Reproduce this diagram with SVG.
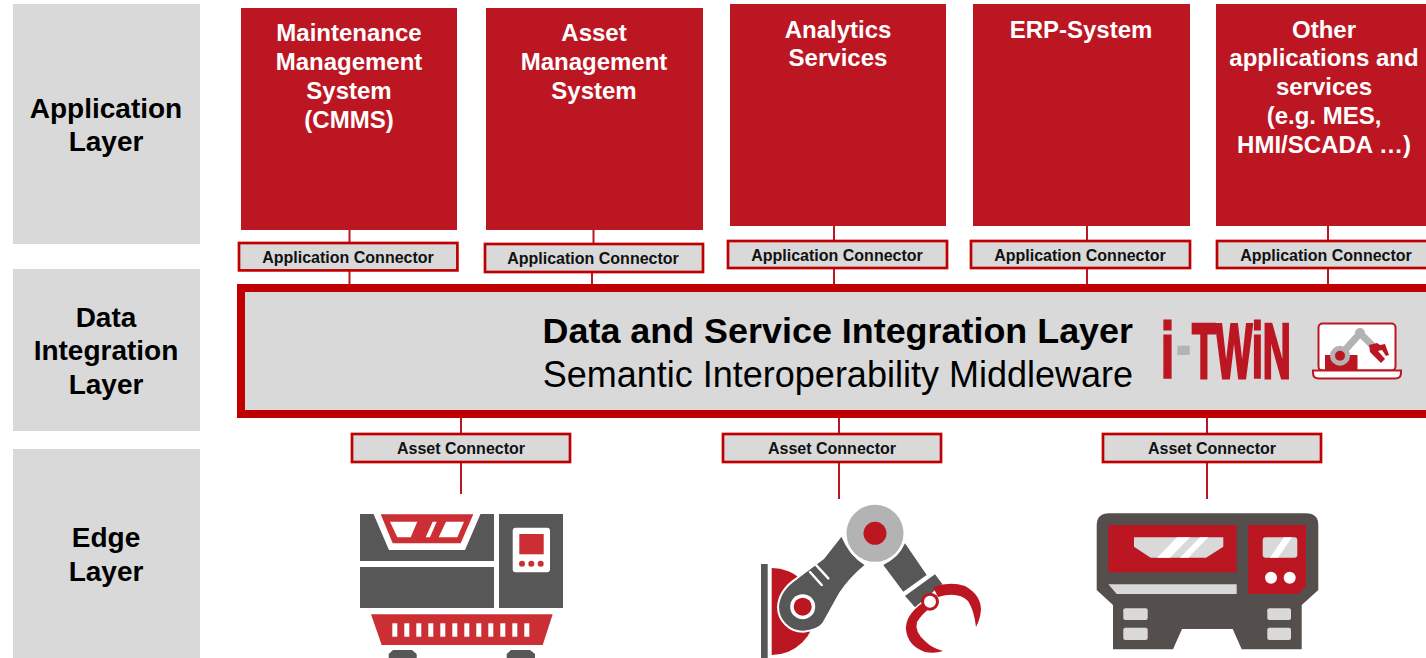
<svg xmlns="http://www.w3.org/2000/svg" width="1426" height="658" viewBox="0 0 1426 658">
<style>
text{font-family:"Liberation Sans",Arial,sans-serif;text-anchor:middle}
.band{fill:#d9d9d9}
.app{fill:#bc1622}
.appt{font-size:24px;font-weight:700;fill:#fff}
.lay{font-size:28px;font-weight:700;fill:#000}
.conn{fill:#d9d9d9;stroke:#c00000;stroke-width:2.700}
.connt{font-size:16px;font-weight:700;fill:#111}
.line{stroke:#bc1622;stroke-width:2;fill:none}
.dk{fill:#575757}
.dk2{fill:#544f4c}
.rd{fill:#cc2f33}
.rd2{fill:#bc1622}
.gr{fill:#d9d9d9}
.wh{fill:#fff}
.lg{font-size:78px;font-weight:700;fill:#bc1622;stroke:#bc1622;stroke-width:2.500;vector-effect:non-scaling-stroke;text-anchor:start}
</style>
<rect width="1426" height="658" fill="#fff"/>
<g id="layer-application"><rect class="band" x="13" y="4" width="187" height="240"/><text class="lay" x="106" y="118">Application</text><text class="lay" x="106" y="151">Layer</text></g>
<g id="layer-data"><rect class="band" x="13" y="269" width="187" height="162"/><text class="lay" x="106" y="327">Data</text><text class="lay" x="106" y="360">Integration</text><text class="lay" x="106" y="394">Layer</text></g>
<g id="layer-edge"><rect class="band" x="13" y="449" width="187" height="209"/><text class="lay" x="106" y="547">Edge</text><text class="lay" x="106" y="581">Layer</text></g>
<g id="connectors">
<path class="line" d="M349.500 230V242M349.500 271V285M593.500 230V243M592 272V285M834 226V240M834 268V285M1087 226V240M1087 268V285M1328 226V240M1328 268V285M461 418V434M461 462V494M839 418V434M839 462V499M1207 418V434M1207 462V499"/>
</g>
<g id="app-cmms"><rect class="app" x="241" y="8" width="216" height="222"/><text class="appt" x="349" y="41">Maintenance</text><text class="appt" x="349" y="70">Management</text><text class="appt" x="349" y="99">System</text><text class="appt" x="349" y="128">(CMMS)</text></g>
<g id="app-asset"><rect class="app" x="486" y="8" width="217" height="222"/><text class="appt" x="594" y="41">Asset</text><text class="appt" x="594" y="70">Management</text><text class="appt" x="594" y="99">System</text></g>
<g id="app-analytics"><rect class="app" x="730" y="4" width="216" height="222"/><text class="appt" x="838" y="38">Analytics</text><text class="appt" x="838" y="66">Services</text></g>
<g id="app-erp"><rect class="app" x="973" y="4" width="217" height="222"/><text class="appt" x="1081" y="38">ERP-System</text></g>
<g id="app-other"><rect class="app" x="1216" y="4" width="210" height="222"/><text class="appt" x="1324" y="38">Other</text><text class="appt" x="1324" y="66">applications and</text><text class="appt" x="1324" y="95">services</text><text class="appt" x="1324" y="124">(e.g. MES,</text><text class="appt" x="1324" y="153">HMI/SCADA …)</text></g>
<g id="ac1"><rect class="conn" x="239" y="243" width="218.400" height="27.400"/><text class="connt" x="348" y="263">Application Connector</text></g>
<g id="ac2"><rect class="conn" x="485" y="244" width="218" height="28"/><text class="connt" x="593" y="264">Application Connector</text></g>
<g id="ac3"><rect class="conn" x="728" y="241" width="219" height="27"/><text class="connt" x="837" y="261">Application Connector</text></g>
<g id="ac4"><rect class="conn" x="971" y="241" width="219" height="27"/><text class="connt" x="1080" y="261">Application Connector</text></g>
<g id="ac5"><rect class="conn" x="1217" y="241" width="212" height="27"/><text class="connt" x="1326" y="261">Application Connector</text></g>
<g id="middleware">
<rect class="band" x="241" y="288" width="1195" height="126" stroke="#c00000" stroke-width="8"/>
<text x="1133" y="343" font-size="35.900" font-weight="700" fill="#000" style="text-anchor:end">Data and Service Integration Layer</text>
<text x="1133" y="387" font-size="36" fill="#000" style="text-anchor:end">Semantic Interoperability Middleware</text>
<g id="logo">
<text class="lg" transform="translate(1161 378) scale(.6 1)">i</text>
<text class="lg" transform="translate(1175.500 371) scale(.62 1)" style="fill:#b3b3b3;stroke:none">-</text>
<text class="lg" transform="translate(1192 378) scale(.497 1)">TWiN</text>
<rect x="1318.500" y="323.500" width="77" height="47" rx="4" fill="#fff" stroke="#bc1622" stroke-width="2"/>
<path d="M1313 370.500H1401V373Q1401 378.500 1395 378.500H1319Q1313 378.500 1313 373Z" fill="#fff" stroke="#bc1622" stroke-width="2"/>
<rect class="rd2" x="1325" y="355" width="32.500" height="15"/>
<path d="M1340 355.700L1360 333.300L1373 346" fill="none" stroke="#b3b3b3" stroke-width="7"/>
<circle cx="1340" cy="355.700" r="10" fill="#b3b3b3"/><circle class="rd2" cx="1340" cy="355.700" r="5"/><circle cx="1360" cy="333" r="5" fill="#b3b3b3"/>
<path class="rd2" d="M1369 345L1377 343L1380 345L1385 344L1389 355L1386 356L1382 350L1378 351L1385 359L1381 363L1370 352Z"/>
</g>
</g>
<g id="asset1"><rect class="conn" x="352" y="434" width="218" height="28"/><text class="connt" x="461" y="454">Asset Connector</text></g>
<g id="asset2"><rect class="conn" x="723" y="434" width="218" height="28"/><text class="connt" x="832" y="454">Asset Connector</text></g>
<g id="asset3"><rect class="conn" x="1103" y="434" width="218" height="28"/><text class="connt" x="1212" y="454">Asset Connector</text></g>
<g id="machine1">
<path class="dk" d="M360 514H373.500L389 550H465L480.500 514H494V561H360Z"/>
<path class="rd" d="M380.700 514.300H473.300L460.700 543.300H392.700Z"/>
<path class="wh" d="M390 521.700H417.300L410.700 537.300H397.300ZM432.700 521.700H436.700L430 537.300H425.700ZM446 521.700H464L457.300 537.300H438.700Z"/>
<rect class="dk" x="360" y="567" width="134" height="41"/>
<rect class="dk" x="499" y="514" width="64" height="94"/>
<rect class="wh" x="512.700" y="527.700" width="37.300" height="44.600" rx="3"/>
<rect class="rd" x="519.300" y="534" width="24.400" height="20.300"/>
<circle class="rd" cx="522" cy="563.700" r="3"/><circle class="rd" cx="531.300" cy="563.700" r="3"/><circle class="rd" cx="540.700" cy="563.700" r="3"/>
<path class="rd" d="M371 614.300H552.700L542.700 645H381.700Z"/>
<g class="wh"><rect x="392.300" y="623.300" width="5" height="13.400"/><rect x="404.300" y="623.300" width="5" height="13.400"/><rect x="416.300" y="623.300" width="5" height="13.400"/><rect x="428.300" y="623.300" width="5" height="13.400"/><rect x="440.300" y="623.300" width="5" height="13.400"/><rect x="452.300" y="623.300" width="5" height="13.400"/><rect x="464.300" y="623.300" width="5" height="13.400"/><rect x="476.300" y="623.300" width="5" height="13.400"/><rect x="488.300" y="623.300" width="5" height="13.400"/><rect x="500.300" y="623.300" width="5" height="13.400"/><rect x="512.300" y="623.300" width="5" height="13.400"/><rect x="524.300" y="623.300" width="5" height="13.400"/></g>
<path class="dk" d="M388.700 658V654L393 650H412L416.700 654V658ZM506.700 658V654L511 650H530L535 654V658Z"/>
</g>
<g id="machine2">
<rect class="dk" x="761" y="564" width="6.700" height="94"/>
<path class="rd2" d="M771.700 568A43.500 43.500 0 0 1 771.700 655Z"/>
<path class="dk" d="M841.700 535L823.300 558.300L796.700 578.300Q779 590 778 606.700A25 25 0 0 0 803.300 631.700Q818 630 823.300 623.300L840 593.300Q850 578 866 565Q850 555 841.700 535Z" stroke="#fff" stroke-width="2"/>
<path d="M810 572L821.700 585M816 565L828.300 578.300" stroke="#fff" stroke-width="2.500" fill="none" stroke-linecap="round"/>
<circle class="wh" cx="802.700" cy="606.700" r="12.500"/>
<circle class="rd2" cx="802.700" cy="606.700" r="9"/>
<path class="dk" d="M905 543.300L926.700 575L903.300 591.700L883.300 565Q898 558 905 543.300Z"/>
<circle cx="875" cy="533.300" r="31" class="wh"/>
<circle cx="875" cy="533.300" r="28.500" fill="#b3b3b3"/>
<circle class="rd2" cx="875" cy="533.300" r="11.500"/>
<path class="dk" d="M905 596L935 574.300L942.300 584L915 607.300Z"/>
<path class="rd2" d="M933 587Q950 581 965 586Q981 595 981 610Q980 620 976 627Q974 610 968 601Q958 591 938 597Z"/>
<path class="rd2" d="M921 604Q905 616 906 630Q908 646 925 652Q935 654 943 651Q932 648 926 642Q914 632 917 622Q922 614 929 609Z"/>
<circle class="rd2" cx="930" cy="601.700" r="9"/><circle class="wh" cx="930" cy="601.700" r="6"/>
</g>
<g id="machine3">
<path class="dk2" d="M1096.700 525Q1097 513.300 1109 513.300H1306Q1318.300 513.300 1318.300 525V590L1301.700 605V649.300H1241.700L1232.700 629H1182L1173 649.300H1113V605L1096.700 590Z"/>
<rect class="rd2" x="1108.300" y="525" width="128.400" height="47.300"/>
<path class="gr" d="M1134 537.300H1223.300V546.700L1206 557.700H1150.700L1134 546.700Z"/>
<path class="wh" d="M1157 557.700L1177 537.300H1190L1170 557.700ZM1180 557.700L1200 537.300H1208.300L1188.300 557.700Z"/>
<path class="gr" d="M1108.300 584.300H1236.700V594H1116.700Z"/>
<path class="rd2" d="M1248.300 525H1306V586L1298.300 594H1248.300Z"/>
<rect class="gr" x="1262.700" y="537.300" width="34.600" height="20.400" rx="3"/>
<path class="wh" d="M1270 557.700L1284 537.300H1292L1278 557.700Z"/>
<circle class="wh" cx="1271" cy="577.700" r="6"/><circle class="wh" cx="1289.700" cy="577.700" r="6"/>
<rect class="gr" x="1123.300" y="608.300" width="24.400" height="11.700" rx="2"/><rect class="gr" x="1123.300" y="627.700" width="24.400" height="12.300" rx="2"/>
<rect class="gr" x="1267.300" y="608.300" width="23.700" height="11.700" rx="2"/><rect class="gr" x="1267.300" y="627.700" width="23.700" height="12.300" rx="2"/>
</g>
</svg>
